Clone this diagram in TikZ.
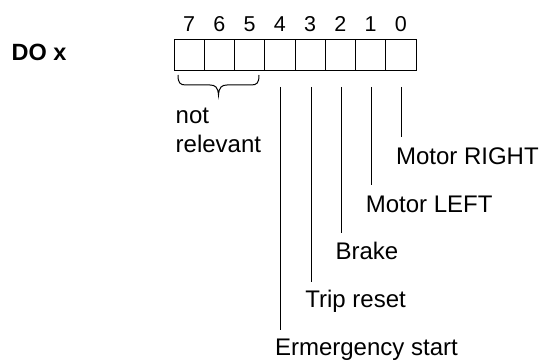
\documentclass[tikz,border=0pt]{standalone}
\usepackage{fontspec}
\setmainfont{Liberation Sans}
\begin{document}
\begin{tikzpicture}[x=1pt,y=-1pt,
  cell/.style={draw,line width=1pt,minimum width=30.25pt,minimum height=31pt,inner sep=0pt,outer sep=0pt},
  digit/.style={anchor=base,inner sep=0pt,font=\fontsize{21.5}{25}\selectfont},
  lab/.style={anchor=base west,inner sep=0pt,font=\fontsize{24}{29}\selectfont},
  lead/.style={line width=1pt}]
\useasboundingbox (0,0) rectangle (541,361);
\node[anchor=base west,inner sep=0pt,font=\fontsize{23.5}{28}\selectfont\bfseries] (title) at (11.5,60) {DO x};
\foreach \b in {7,...,0}{
  \pgfmathsetmacro{\cx}{174+30.25*(7-\b+0.5)}
  \node[cell] (c\b) at (\cx,55.5) {};
  \node[digit] (d\b) at (\cx,32) {\b};
}
% brace
\draw[line width=1pt] (178,75) .. controls (178,83) and (180,85) .. (186,85) -- (210,85)
  .. controls (215,85) and (218,87) .. (218.5,95)
  .. controls (219,87) and (222,85) .. (227,85) -- (251,85)
  .. controls (257,85) and (259,83) .. (259,75);
\node[lab,align=left] (nr) at (175.5,152) {not\\relevant};
% labels
\node[lab] (l0) at ([xshift=-5pt]c0.center |- 0,164) {Motor RIGHT};
\node[lab] (l1) at ([xshift=-5pt]c1.center |- 0,212) {Motor LEFT};
\node[lab] (l2) at ([xshift=-5pt]c2.center |- 0,259.5) {Brake};
\node[lab] (l3) at ([xshift=-5pt]c3.center |- 0,307) {Trip reset};
\node[lab] (l4) at ([xshift=-5pt]c4.center |- 0,355) {Ermergency start};
% leads
\foreach \b/\e in {0/137,1/185,2/233,3/282,4/330}{
  \coordinate (s\b) at ([xshift=1pt]c\b.center |- 0,87);
  \coordinate (e\b) at ([xshift=1pt]c\b.center |- 0,\e);
  \draw[lead] (s\b) -- (e\b);
}
\end{tikzpicture}
\end{document}
